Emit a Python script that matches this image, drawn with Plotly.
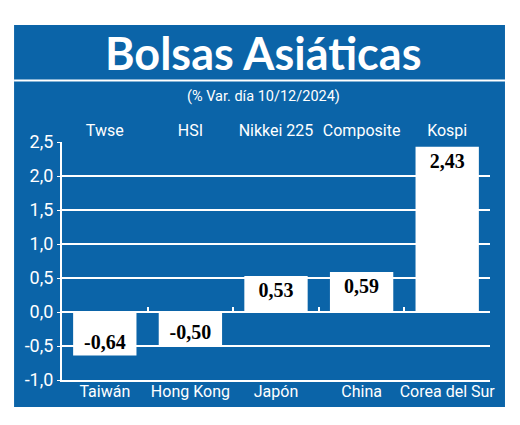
import plotly.graph_objects as go

# Datos
paises = ["Taiwán", "Hong Kong", "Japón", "China", "Corea del Sur"]
indices = ["Twse", "HSI", "Nikkei 225", "Composite", "Kospi"]
variacion = [-0.64, -0.50, 0.53, 0.59, 2.43]
y_ticks = [-1.0, -0.5, 0.0, 0.5, 1.0, 1.5, 2.0, 2.5]
y_labels = ["-1,0", "-0,5", "0,0", "0,5", "1,0", "1,5", "2,0", "2,5"]

AZUL = "#0b64a8"
BLANCO = "#ffffff"
SANS = "Roboto, Open Sans, sans-serif"

fig = go.Figure()

fig.add_trace(go.Bar(
    x=paises,
    y=variacion,
    marker=dict(color=BLANCO, line=dict(width=0)),
    text=[f"{v:.2f}".replace(".", ",") for v in variacion],
    textposition="inside",
    insidetextanchor="end",
    textangle=0,
    textfont=dict(family="Liberation Serif, serif", size=20, color="#000000", weight="bold"),
    cliponaxis=False,
    hoverinfo="skip",
    showlegend=False,
))

# eje superior con los nombres de los índices
fig.add_trace(go.Bar(x=indices, y=variacion, xaxis="x2", marker_opacity=0,
                     hoverinfo="skip", showlegend=False))
# marcas sobre la línea del cero
fig.add_trace(go.Bar(x=paises, y=variacion, xaxis="x3", marker_opacity=0,
                     hoverinfo="skip", showlegend=False))

# la página deja 8px de margen arriba y a la izquierda
fig.update_layout(
    width=512, height=417,
    margin=dict(l=54, r=30, t=134, b=45),
    paper_bgcolor=BLANCO,
    plot_bgcolor=AZUL,
    bargap=0.26,
    font=dict(family=SANS, color=BLANCO),
    xaxis=dict(
        showgrid=False, zeroline=False,
        showline=True, linecolor=BLANCO, linewidth=2,
        ticks="", tickfont=dict(size=16, color=BLANCO),
        ticklabelstandoff=-4,
    ),
    xaxis2=dict(
        overlaying="x", side="top", anchor="y",
        showgrid=False, zeroline=False, showline=False,
        ticks="", tickfont=dict(size=16, color=BLANCO),
        ticklabelstandoff=2,
    ),
    xaxis3=dict(
        overlaying="x", anchor="free", position=1 / 3.5,
        showgrid=False, zeroline=False, showline=False,
        showticklabels=False,
        ticks="inside", tickson="boundaries", ticklen=5, tickwidth=2, tickcolor=BLANCO,
    ),
    yaxis=dict(
        range=[-1.0, 2.5], tickvals=y_ticks, ticktext=y_labels,
        showgrid=True, gridcolor=BLANCO, gridwidth=2,
        zeroline=True, zerolinecolor=BLANCO, zerolinewidth=2,
        showline=True, linecolor=BLANCO, linewidth=2,
        ticks="outside", ticklen=3, tickcolor=BLANCO,
        tickfont=dict(size=18, color=BLANCO),
    ),
    shapes=[
        # panel azul
        dict(type="rect", xref="paper", yref="paper", layer="below",
             x0=-0.112, x1=1.035, y0=-0.113, y1=1.492,
             fillcolor=AZUL, line=dict(width=0)),
        # línea bajo el título
        dict(type="line", xref="paper", yref="paper", layer="below",
             x0=-0.112, x1=1.035, y0=1.258, y1=1.258,
             line=dict(color=BLANCO, width=2)),
    ],
    annotations=[
        dict(text="Bolsas Asiáticas", xref="paper", yref="paper",
             x=0.47, y=1.375, showarrow=False, xanchor="center", yanchor="middle",
             font=dict(family="Lato, sans-serif", size=45, color=BLANCO, weight="bold")),
        dict(text="(% Var. día 10/12/2024)", xref="paper", yref="paper",
             x=0.47, y=1.193, showarrow=False, xanchor="center", yanchor="middle",
             font=dict(family=SANS, size=14.5, color=BLANCO)),
    ],
)

fig.write_html("out.html")
